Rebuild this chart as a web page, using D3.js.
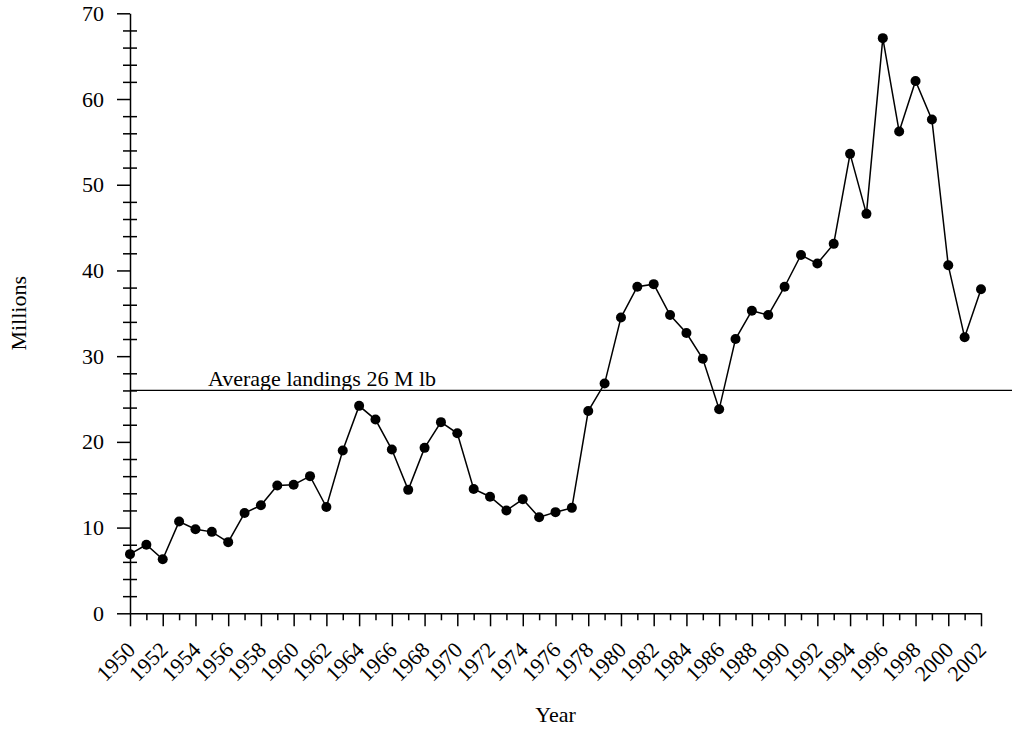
<!DOCTYPE html>
<html>
<head>
<meta charset="utf-8">
<script src="https://cdnjs.cloudflare.com/ajax/libs/d3/7.8.5/d3.min.js"></script>
<style>
  body { margin: 0; background: #fff; }
  text { font-family: "Liberation Serif", "Times New Roman", serif; fill: #000; }
  .axis path, .axis line { stroke: #000; stroke-width: 1.5; }
</style>
</head>
<body>
<div id="chart"></div>
<script>
const years = d3.range(1950, 2003);
const landings = [
  6.9, 8.0, 6.3, 10.7, 9.8, 9.5, 8.3, 11.7, 12.6, 14.9,
  15.0, 16.0, 12.4, 19.0, 24.2, 22.6, 19.1, 14.4, 19.3, 22.3,
  21.0, 14.5, 13.6, 12.0, 13.3, 11.2, 11.8, 12.3, 23.6, 26.8,
  34.5, 38.1, 38.4, 34.8, 32.7, 29.7, 23.8, 32.0, 35.3, 34.8,
  38.1, 41.8, 40.8, 43.1, 53.6, 46.6, 67.1, 56.2, 62.1, 57.6,
  40.6, 32.2, 37.8
];
const averageLanding = 26;
const averageLabel = 'Average landings 26 M lb';
const yMajorTicks = d3.range(0, 71, 10);
const yMinorTicks = d3.range(0, 71, 2).filter(d => d % 10 !== 0);
const xMajorTicks = years.filter(d => d % 2 === 0);
const xMinorTicks = years.filter(d => d % 2 === 1);

const w = 1012;
const h = 729;
const padding = { top: 13.3, bottom: 115.7, left: 130, right: 31 };
const fontSize = '22px';

const xScale = d3.scaleLinear().
  domain([1950, 2002]).
  range([padding.left, w - padding.right]);

const yScale = d3.scaleLinear().
  domain([0, 70]).
  range([h - padding.bottom, padding.top]);

const svg = d3.select('#chart').
  append('svg').
  attr('width', w).
  attr('height', h);

// minor ticks first, under the main axes
svg.append('g').
  attr('class', 'axis').
  attr('transform', 'translate(' + (padding.left + 7) + ', 0)').
  call(d3.axisLeft(yScale).tickValues(yMinorTicks).tickSize(14).tickFormat('')).
  call(g => g.select('.domain').remove());

svg.append('g').
  attr('class', 'axis').
  attr('transform', 'translate(0, ' + (h - padding.bottom) + ')').
  call(d3.axisBottom(xScale).tickValues(xMinorTicks).tickSize(7).tickFormat('')).
  call(g => g.select('.domain').remove());

const yAxis = svg.append('g').
  attr('class', 'axis').
  attr('transform', 'translate(' + padding.left + ', 0)').
  call(d3.axisLeft(yScale).tickValues(yMajorTicks).tickSize(13).tickSizeOuter(0).tickPadding(13));
yAxis.selectAll('text').
  style('font-size', fontSize).
  attr('font-family', null);

const xAxis = svg.append('g').
  attr('class', 'axis').
  attr('transform', 'translate(0, ' + (h - padding.bottom) + ')').
  call(d3.axisBottom(xScale).tickValues(xMajorTicks).tickSize(13).tickSizeOuter(0).tickFormat(d3.format('d')));
xAxis.selectAll('text').
  style('font-size', fontSize).
  attr('y', null).
  attr('dy', null).
  attr('text-anchor', 'end').
  attr('transform', 'translate(6, 38) rotate(-45)');

// average line
svg.append('line').
  attr('x1', padding.left).
  attr('x2', w).
  attr('y1', yScale(averageLanding)).
  attr('y2', yScale(averageLanding)).
  attr('stroke', '#000').
  attr('stroke-width', 1.2);

svg.append('text').
  attr('x', 208).
  attr('y', yScale(averageLanding) - 4).
  style('font-size', fontSize).
  text(averageLabel);

const line = d3.line().
  x((d, i) => xScale(years[i])).
  y(d => yScale(d));

svg.append('path').
  datum(landings).
  attr('d', line).
  attr('fill', 'none').
  attr('stroke', '#000').
  attr('stroke-width', 1.5);

svg.selectAll('circle').
  data(landings).
  enter().
  append('circle').
  attr('cx', (d, i) => xScale(years[i])).
  attr('cy', d => yScale(d)).
  attr('r', 5).
  attr('fill', '#000');

svg.append('text').
  attr('transform', 'translate(26, ' + ((yScale(0) + yScale(70)) / 2) + ') rotate(-90)').
  attr('text-anchor', 'middle').
  style('font-size', fontSize).
  text('Millions');

svg.append('text').
  attr('x', (xScale(1950) + xScale(2002)) / 2).
  attr('y', 722).
  attr('text-anchor', 'middle').
  style('font-size', fontSize).
  text('Year');
</script>
</body>
</html>
